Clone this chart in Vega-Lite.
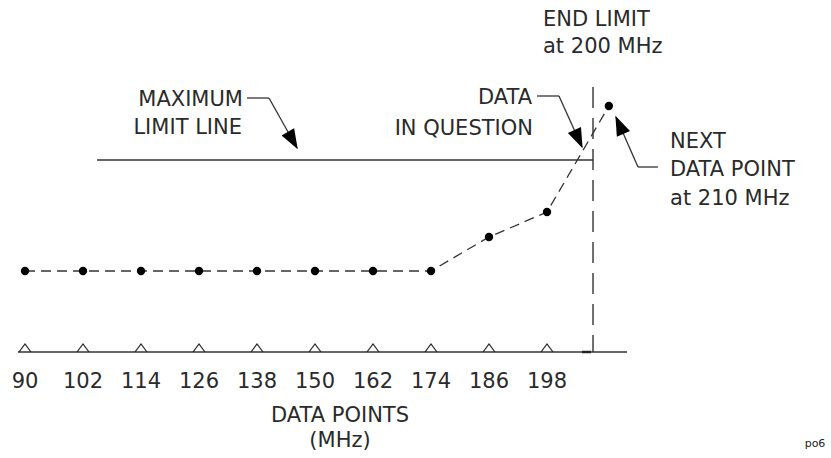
{
  "$schema": "https://vega.github.io/schema/vega-lite/v6.json",
  "width": 831,
  "height": 458,
  "padding": 0,
  "autosize": {"type": "fit", "contains": "padding"},
  "background": "white",
  "config": {"view": {"stroke": null}},
  "datasets": {
    "pts": [
      {"mhz": 90, "level": 81},
      {"mhz": 102, "level": 81},
      {"mhz": 114, "level": 81},
      {"mhz": 126, "level": 81},
      {"mhz": 138, "level": 81},
      {"mhz": 150, "level": 81},
      {"mhz": 162, "level": 81},
      {"mhz": 174, "level": 81},
      {"mhz": 186, "level": 115},
      {"mhz": 198, "level": 140},
      {"mhz": 210.8, "level": 246}
    ],
    "ticks": [
      {"mhz": 90, "label": "90"},
      {"mhz": 102, "label": "102"},
      {"mhz": 114, "label": "114"},
      {"mhz": 126, "label": "126"},
      {"mhz": 138, "label": "138"},
      {"mhz": 150, "label": "150"},
      {"mhz": 162, "label": "162"},
      {"mhz": 174, "label": "174"},
      {"mhz": 186, "label": "186"},
      {"mhz": 198, "label": "198"}
    ],
    "solid": [
      {"name": "maximum limit line", "x": 104.9, "y": 192, "x2": 207.52, "y2": 192},
      {"name": "frequency axis", "x": 88.55, "y": 0, "x2": 214.55, "y2": 0},
      {"name": "maximum leader a", "x": 135.93, "y": 254, "x2": 140.48, "y2": 254},
      {"name": "maximum leader b", "x": 140.48, "y": 254, "x2": 146.28, "y2": 204},
      {"name": "data leader a", "x": 195.93, "y": 256, "x2": 200.48, "y2": 256},
      {"name": "data leader b", "x": 200.48, "y": 256, "x2": 205.24, "y2": 205},
      {"name": "next leader a", "x": 220.97, "y": 185, "x2": 216.83, "y2": 185},
      {"name": "next leader b", "x": 216.83, "y": 185, "x2": 212.28, "y2": 235}
    ],
    "endlimit": [
      {"name": "end limit", "x": 207.52, "y": 265, "x2": 207.52, "y2": 0}
    ],
    "stub": [
      {"name": "stub", "x": 205.24, "y": 0, "x2": 207.1, "y2": 0}
    ],
    "arrows": [
      {"x": 145.41, "y": 211.4, "ang": 150.3},
      {"x": 204.52, "y": 212.8, "ang": 155.7},
      {"x": 212.98, "y": 227.2, "ang": 336.2}
    ],
    "textLeft": [
      {"text": "END LIMIT", "x": 197.17, "y": 332},
      {"text": "at 200 MHz", "x": 197.17, "y": 305},
      {"text": "NEXT", "x": 223.45, "y": 210},
      {"text": "DATA POINT", "x": 223.45, "y": 182},
      {"text": "at 210 MHz", "x": 223.45, "y": 153.5}
    ],
    "textRight": [
      {"text": "MAXIMUM", "x": 135.1, "y": 252},
      {"text": "LIMIT LINE", "x": 134.9, "y": 224.5},
      {"text": "DATA", "x": 194.9, "y": 254},
      {"text": "IN QUESTION", "x": 195.1, "y": 223.5}
    ],
    "textCenter": [
      {"text": "DATA POINTS", "x": 155.17, "y": -64},
      {"text": "(MHz)", "x": 155.17, "y": -89}
    ],
    "note": [
      {"text": "po6", "x": 253.45, "y": -92}
    ]
  },
  "layer": [
    {
      "data": {"name": "solid"},
      "mark": {"type": "rule", "color": "#333333", "strokeWidth": 1.3},
      "encoding": {
        "x": {"field": "x", "type": "quantitative", "scale": {"domain": [84.828, 256.759], "nice": false, "zero": false}, "axis": null},
        "x2": {"field": "x2"},
        "y": {"field": "y", "type": "quantitative", "scale": {"domain": [-106, 352], "nice": false, "zero": false}, "axis": null},
        "y2": {"field": "y2"}
      }
    },
    {
      "data": {"name": "endlimit"},
      "mark": {"type": "rule", "color": "#333333", "strokeWidth": 1.4, "strokeDash": [21, 10]},
      "encoding": {
        "x": {"field": "x", "type": "quantitative"},
        "x2": {"field": "x2"},
        "y": {"field": "y", "type": "quantitative"},
        "y2": {"field": "y2"}
      }
    },
    {
      "data": {"name": "stub"},
      "mark": {"type": "rule", "color": "#222222", "strokeWidth": 2.5},
      "encoding": {
        "x": {"field": "x", "type": "quantitative"},
        "x2": {"field": "x2"},
        "y": {"field": "y", "type": "quantitative"},
        "y2": {"field": "y2"}
      }
    },
    {
      "data": {"name": "pts"},
      "mark": {"type": "line", "color": "#333333", "strokeWidth": 1.3, "strokeDash": [10, 6]},
      "encoding": {
        "x": {"field": "mhz", "type": "quantitative"},
        "y": {"field": "level", "type": "quantitative"},
        "order": {"field": "mhz", "type": "quantitative"}
      }
    },
    {
      "data": {"name": "pts"},
      "mark": {"type": "point", "filled": true, "color": "#000000", "opacity": 1, "size": 70},
      "encoding": {
        "x": {"field": "mhz", "type": "quantitative"},
        "y": {"field": "level", "type": "quantitative"}
      }
    },
    {
      "data": {"name": "ticks"},
      "mark": {"type": "point", "filled": false, "color": "#222222", "opacity": 1, "strokeWidth": 1.2, "size": 144, "shape": "M-1,0L0,-1.35L1,0"},
      "encoding": {
        "x": {"field": "mhz", "type": "quantitative"},
        "y": {"datum": 0}
      }
    },
    {
      "data": {"name": "ticks"},
      "mark": {"type": "text", "font": "DejaVu Sans", "fontSize": 21, "color": "#2a2a2a", "align": "center", "baseline": "middle"},
      "encoding": {
        "x": {"field": "mhz", "type": "quantitative"},
        "y": {"datum": -30},
        "text": {"field": "label"}
      }
    },
    {
      "data": {"name": "arrows"},
      "mark": {"type": "point", "filled": true, "color": "#000000", "opacity": 1, "size": 400, "shape": "M0,-1L0.72,1L-0.72,1Z"},
      "encoding": {
        "x": {"field": "x", "type": "quantitative"},
        "y": {"field": "y", "type": "quantitative"},
        "angle": {"field": "ang", "type": "quantitative", "scale": null}
      }
    },
    {
      "data": {"name": "textLeft"},
      "mark": {"type": "text", "font": "DejaVu Sans", "fontSize": 21, "color": "#2a2a2a", "align": "left", "baseline": "middle"},
      "encoding": {
        "x": {"field": "x", "type": "quantitative"},
        "y": {"field": "y", "type": "quantitative"},
        "text": {"field": "text"}
      }
    },
    {
      "data": {"name": "textRight"},
      "mark": {"type": "text", "font": "DejaVu Sans", "fontSize": 21, "color": "#2a2a2a", "align": "right", "baseline": "middle"},
      "encoding": {
        "x": {"field": "x", "type": "quantitative"},
        "y": {"field": "y", "type": "quantitative"},
        "text": {"field": "text"}
      }
    },
    {
      "data": {"name": "textCenter"},
      "mark": {"type": "text", "font": "DejaVu Sans", "fontSize": 21, "color": "#2a2a2a", "align": "center", "baseline": "middle"},
      "encoding": {
        "x": {"field": "x", "type": "quantitative"},
        "y": {"field": "y", "type": "quantitative"},
        "text": {"field": "text"}
      }
    },
    {
      "data": {"name": "note"},
      "mark": {"type": "text", "font": "DejaVu Sans", "fontSize": 11, "color": "#222222", "align": "center", "baseline": "middle"},
      "encoding": {
        "x": {"field": "x", "type": "quantitative"},
        "y": {"field": "y", "type": "quantitative"},
        "text": {"field": "text"}
      }
    }
  ]
}
